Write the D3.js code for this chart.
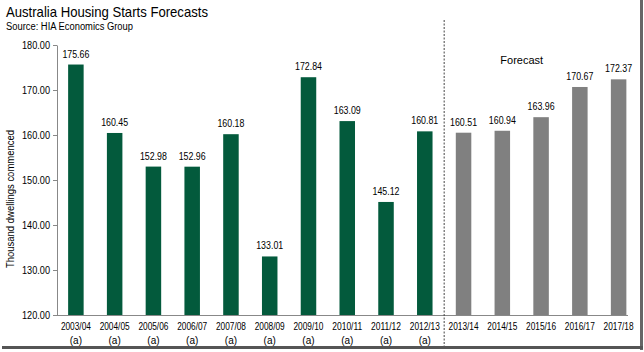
<!DOCTYPE html>
<html><head><meta charset="utf-8">
<script src="https://cdn.jsdelivr.net/npm/d3@7"></script>
<style>body{margin:0;background:#fff}svg{display:block}text{font-family:"Liberation Sans",Arial,sans-serif}</style>
</head><body>
<script>
const categories = ["2003/04","2004/05","2005/06","2006/07","2007/08","2008/09","2009/10","2010/11","2011/12","2012/13","2013/14","2014/15","2015/16","2016/17","2017/18"];
const subLabels = ["(a)","(a)","(a)","(a)","(a)","(a)","(a)","(a)","(a)","(a)","","","","",""];
const values = [175.66,160.45,152.98,152.96,160.18,133.01,172.84,163.09,145.12,160.81,160.51,160.94,163.96,170.67,172.37];
const isForecast = [false,false,false,false,false,false,false,false,false,false,true,true,true,true,true];
const yTicks = [120,130,140,150,160,170,180];

const W=644,H=352;
const svg=d3.select("body").append("svg").attr("width",W).attr("height",H);
svg.append("rect").attr("width",W).attr("height",H).attr("fill","#fff");

// frame shadow
svg.append("rect").attr("x",640).attr("y",0).attr("width",3).attr("height",350).attr("fill","#666");
svg.append("rect").attr("x",2).attr("y",346).attr("width",641).attr("height",3).attr("fill","#555");

const x=d3.scaleBand().domain(categories).range([56.5,638]).paddingInner(0.6).paddingOuter(0.3);
const y=d3.scaleLinear().domain([120,180]).range([315,45]);

// title
svg.append("text").attr("x",6).attr("y",17).attr("font-size",15).attr("fill","#000")
  .attr("textLength",202).attr("lengthAdjust","spacingAndGlyphs").text("Australia Housing Starts Forecasts");
svg.append("text").attr("x",6).attr("y",30).attr("font-size",10).attr("fill","#000")
  .attr("textLength",127).attr("lengthAdjust","spacingAndGlyphs").text("Source: HIA Economics Group");

// y axis
const ya=svg.append("g").attr("transform","translate(57,0)")
  .call(d3.axisLeft(y).tickValues(yTicks).tickFormat(d3.format(".2f")).tickSize(4).tickSizeOuter(0));
ya.select(".domain").attr("stroke","#888");
ya.selectAll(".tick line").attr("stroke","#888");
ya.selectAll(".tick text").attr("font-size",10).attr("fill","#000").attr("font-family","Liberation Sans, Arial, sans-serif")
  .attr("x",-7).attr("textLength",28).attr("lengthAdjust","spacingAndGlyphs");

svg.append("text").attr("transform","translate(14,199) rotate(-90)").attr("text-anchor","middle")
  .attr("font-size",10).attr("fill","#000").attr("textLength",138).attr("lengthAdjust","spacingAndGlyphs").text("Thousand dwellings commenced");

// bars
svg.selectAll("rect.bar").data(categories).enter().append("rect").attr("class","bar")
  .attr("x",d=>x(d)).attr("width",x.bandwidth())
  .attr("y",(d,i)=>y(values[i])).attr("height",(d,i)=>315-y(values[i]))
  .attr("fill",(d,i)=>isForecast[i]?"#808080":"#035a3c");

// value labels
svg.selectAll("text.val").data(categories).enter().append("text").attr("class","val")
  .attr("x",d=>x(d)+x.bandwidth()/2).attr("y",(d,i)=>y(values[i])-7)
  .attr("text-anchor","middle").attr("font-size",10).attr("fill","#000")
  .attr("textLength",27).attr("lengthAdjust","spacingAndGlyphs")
  .text((d,i)=>values[i].toFixed(2));

// x axis line
svg.append("line").attr("x1",57).attr("x2",628).attr("y1",315.5).attr("y2",315.5).attr("stroke","#888");

// x labels
svg.selectAll("text.xl").data(categories).enter().append("text").attr("class","xl")
  .attr("x",d=>x(d)+x.bandwidth()/2 - 15).attr("y",330)
  .attr("font-size",10).attr("fill","#000").attr("textLength",30).attr("lengthAdjust","spacingAndGlyphs").text(d=>d);
svg.selectAll("text.xs").data(categories).enter().append("text").attr("class","xs")
  .attr("x",d=>x(d)+x.bandwidth()/2).attr("y",344).attr("text-anchor","middle")
  .attr("font-size",10).attr("fill","#000").text((d,i)=>subLabels[i]);

// forecast divider
const divX=(x("2012/13")+x.bandwidth()+x("2013/14"))/2;
svg.append("line").attr("x1",divX).attr("x2",divX).attr("y1",20).attr("y2",346)
  .attr("stroke","#444").attr("stroke-dasharray","2,1.5");
svg.append("text").attr("x",(x("2014/15")+x("2015/16")+x.bandwidth())/2).attr("y",64)
  .attr("text-anchor","middle").attr("font-size",11).attr("fill","#000").text("Forecast");
</script>
</body></html>
